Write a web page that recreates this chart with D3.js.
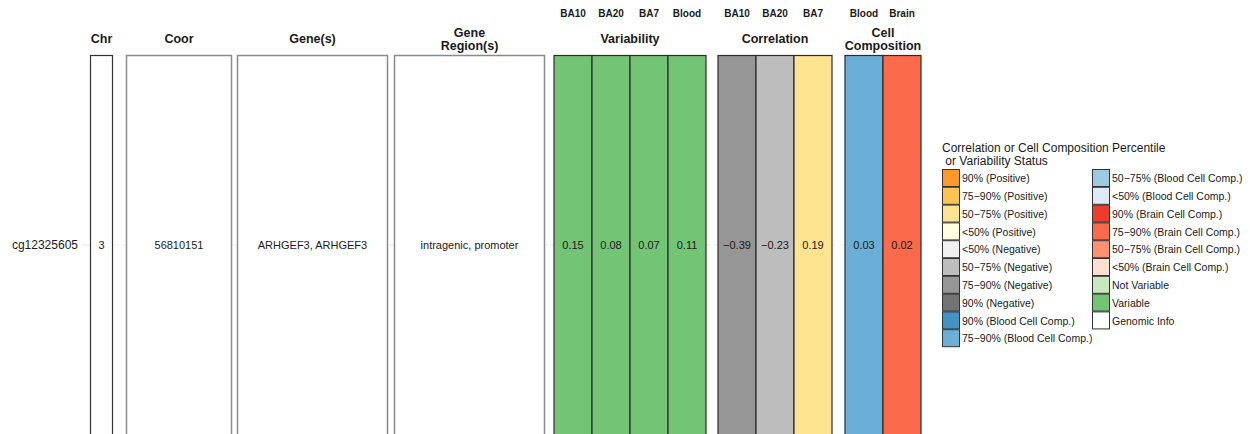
<!DOCTYPE html>
<html>
<head>
<meta charset="utf-8">
<script src="https://cdn.jsdelivr.net/npm/d3@7"></script>
<style>
  html, body { margin: 0; padding: 0; background: #fff; }
  svg { display: block; font-family: "Liberation Sans", Arial, Helvetica, sans-serif; }
</style>
</head>
<body>
<svg id="chart" width="1250" height="434"></svg>
<script>
// ---- data ----
const probeIds = ["cg12325605"];

const genomicHeaders = ["Chr", "Coor", "Gene(s)", "Gene\nRegion(s)"];
const genomicValues = ["3", "56810151", "ARHGEF3, ARHGEF3", "intragenic, promoter"];

const variabilityTissues = ["BA10", "BA20", "BA7", "Blood"];
const variabilityValues = [0.15, 0.08, 0.07, 0.11];
const variabilityStatus = ["Variable", "Variable", "Variable", "Variable"];

const correlationTissues = ["BA10", "BA20", "BA7"];
const correlationValues = [-0.39, -0.23, 0.19];
const correlationClass = ["75\u221290% (Negative)", "50\u221275% (Negative)", "50\u221275% (Positive)"];

const cellCompTissues = ["Blood", "Brain"];
const cellCompValues = [0.03, 0.02];
const cellCompClass = ["75\u221290% (Blood Cell Comp.)", "75\u221290% (Brain Cell Comp.)"];

const legendTitle = ["Correlation or Cell Composition Percentile", " or Variability Status"];
const legendLabels = [
  "90% (Positive)", "75\u221290% (Positive)", "50\u221275% (Positive)", "<50% (Positive)",
  "<50% (Negative)", "50\u221275% (Negative)", "75\u221290% (Negative)", "90% (Negative)",
  "90% (Blood Cell Comp.)", "75\u221290% (Blood Cell Comp.)", "50\u221275% (Blood Cell Comp.)", "<50% (Blood Cell Comp.)",
  "90% (Brain Cell Comp.)", "75\u221290% (Brain Cell Comp.)", "50\u221275% (Brain Cell Comp.)", "<50% (Brain Cell Comp.)",
  "Not Variable", "Variable", "Genomic Info"
];
const legendColors = [
  "#FB9A29", "#FEC44F", "#FEE391", "#FFFFE0",
  "#F0F0F0", "#BDBDBD", "#969696", "#737373",
  "#4292C6", "#6BAED6", "#9ECAE1", "#DEEBF7",
  "#EF3B2C", "#FB6A4A", "#FC9272", "#FEE0D2",
  "#C7E9C0", "#74C476", "#FFFFFF"
];

// ---- scales ----
const fillScale = d3.scaleOrdinal().domain(legendLabels).range(legendColors);
const fmt = v => d3.format(".2f")(v).replace("-", "\u2212");

const svg = d3.select("#chart");
const tileTop = 55, tileBottom = 435;
const y = d3.scaleBand().domain(probeIds).range([tileTop, tileBottom]).padding(0);
const rowMid = id => y(id) + y.bandwidth() / 2;

// panel layout: pixel extents of each panel
const genomicPanels = [
  { x0: 90, x1: 113, ext: 7 },
  { x0: 126, x1: 232, ext: 3 },
  { x0: 237, x1: 388, ext: 3 },
  { x0: 394, x1: 545, ext: 4 }
];

const dataPanels = [
  { title: ["Variability"], x0: 554, x1: 706, cols: variabilityTissues,
    values: variabilityValues, classes: variabilityStatus },
  { title: ["Correlation"], x0: 718, x1: 832, cols: correlationTissues,
    values: correlationValues, classes: correlationClass },
  { title: ["Cell", "Composition"], x0: 845, x1: 921, cols: cellCompTissues,
    values: cellCompValues, classes: cellCompClass }
];

const gridCol = "#EBEBEB";

function headerLines(g, lines, cx) {
  const base = lines.length === 1 ? 43 : 37;
  lines.forEach((t, i) => {
    g.append("text")
      .attr("x", cx).attr("y", base + i * 12.5)
      .attr("text-anchor", "middle")
      .attr("font-size", 12.5).attr("font-weight", "bold")
      .attr("fill", "#1a1a1a")
      .text(t);
  });
}

// ---- genomic info panels ----
genomicPanels.forEach((p, i) => {
  const g = svg.append("g");
  const x = d3.scaleBand().domain([genomicHeaders[i]]).range([p.x0, p.x1]);
  probeIds.forEach(id => {
    g.append("line")
      .attr("x1", p.x0 - p.ext).attr("x2", p.x1 + p.ext)
      .attr("y1", rowMid(id)).attr("y2", rowMid(id))
      .attr("stroke", gridCol).attr("stroke-width", 1);
    g.append("rect")
      .attr("x", x(genomicHeaders[i]) + 0.5).attr("y", y(id) + 0.5)
      .attr("width", x.bandwidth() - 1).attr("height", y.bandwidth())
      .attr("fill", fillScale("Genomic Info"))
      .attr("stroke", i === 0 ? "#333" : "#8a8a8a")
      .attr("stroke-width", i === 0 ? 1.2 : 1.5);
    g.append("text")
      .attr("x", x(genomicHeaders[i]) + x.bandwidth() / 2)
      .attr("y", rowMid(id)).attr("dy", "0.35em")
      .attr("text-anchor", "middle")
      .attr("font-size", 11).attr("fill", "#1a1a1a")
      .text(genomicValues[i]);
  });
  headerLines(g, genomicHeaders[i].split("\n"), (p.x0 + p.x1) / 2);
});

// ---- row label ----
probeIds.forEach(id => {
  svg.append("line")
    .attr("x1", 82).attr("x2", 88).attr("y1", rowMid(id)).attr("y2", rowMid(id))
    .attr("stroke", gridCol);
  svg.append("text")
    .attr("x", 78).attr("y", rowMid(id)).attr("dy", "0.35em")
    .attr("text-anchor", "end")
    .attr("font-size", 12).attr("fill", "#1a1a1a")
    .text(id);
});

// ---- value panels ----
dataPanels.forEach(p => {
  const g = svg.append("g");
  const x = d3.scaleBand().domain(p.cols).range([p.x0, p.x1]).padding(0);
  probeIds.forEach(id => {
    g.append("line")
      .attr("x1", p.x0 - 4).attr("x2", p.x1 + 4)
      .attr("y1", rowMid(id)).attr("y2", rowMid(id))
      .attr("stroke", gridCol);
    g.selectAll("rect.tile")
      .data(p.cols.map((c, j) => ({ col: c, value: p.values[j], cls: p.classes[j] })))
      .join("rect")
      .attr("class", "tile")
      .attr("x", d => x(d.col)).attr("y", y(id) + 0.5)
      .attr("width", x.bandwidth()).attr("height", y.bandwidth())
      .attr("fill", d => fillScale(d.cls))
      .attr("stroke", "#2b2b2b").attr("stroke-width", 1.2);
    g.selectAll("text.val")
      .data(p.cols.map((c, j) => ({ col: c, value: p.values[j] })))
      .join("text")
      .attr("class", "val")
      .attr("x", d => x(d.col) + x.bandwidth() / 2)
      .attr("y", rowMid(id)).attr("dy", "0.35em")
      .attr("text-anchor", "middle")
      .attr("font-size", 11).attr("fill", "#1a1a1a")
      .text(d => fmt(d.value));
  });
  // tissue labels on top
  g.selectAll("text.col")
    .data(p.cols)
    .join("text")
    .attr("class", "col")
    .attr("x", d => x(d) + x.bandwidth() / 2)
    .attr("y", 17)
    .attr("text-anchor", "middle")
    .attr("font-size", 10).attr("font-weight", "bold")
    .attr("fill", "#1a1a1a")
    .text(d => d);
  headerLines(g, p.title, (p.x0 + p.x1) / 2);
});

// ---- legend ----
const leg = svg.append("g").attr("transform", "translate(942,0)");
legendTitle.forEach((t, i) => {
  leg.append("text")
    .attr("x", 0).attr("y", 152 + i * 13)
    .attr("font-size", 12).attr("fill", "#1a1a1a")
    .attr("xml:space", "preserve")
    .style("white-space", "pre")
    .text(t);
});
const perCol = 10, step = 17.8, keySize = 17;
const items = leg.selectAll("g.item")
  .data(legendLabels)
  .join("g")
  .attr("class", "item")
  .attr("transform", (d, i) => `translate(${Math.floor(i / perCol) * 150},${169 + (i % perCol) * step})`);
items.append("rect")
  .attr("x", 0.5).attr("y", 0.5)
  .attr("width", keySize).attr("height", keySize)
  .attr("fill", d => fillScale(d))
  .attr("stroke", "#333").attr("stroke-width", 1);
items.append("text")
  .attr("x", 20).attr("y", keySize / 2 + 1).attr("dy", "0.35em")
  .attr("font-size", 10.5).attr("fill", "#1a1a1a")
  .text(d => d);
</script>
</body>
</html>
